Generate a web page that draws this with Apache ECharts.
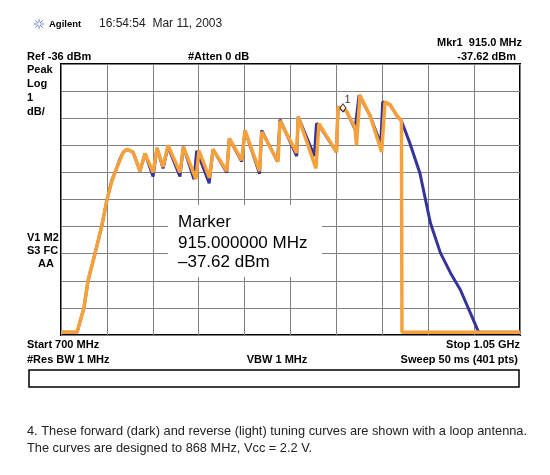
<!DOCTYPE html>
<html>
<head>
<meta charset="utf-8">
<script src="https://cdn.jsdelivr.net/npm/echarts@6/dist/echarts.min.js"></script>
<style>
  html, body { margin: 0; padding: 0; background: #fff; }
  #chart { width: 550px; height: 475px; }
</style>
</head>
<body>
<div id="chart"></div>
<script>
// axis: 700 MHz .. 1050 MHz, 35 MHz/div; Ref -36 dBm, 1 dB/div
var freqMin = 700, freqMax = 1050, freqStep = 35;
var levelMin = -46, levelMax = -36, levelStep = 1;

// forward (dark) curve
var forwardFreq = [700, 712.2, 717.5, 720.6, 725.9, 731, 735.1, 738.7, 741.2, 745, 747.5, 750.3, 754.9,
  760.2, 764.1, 770.2, 773.2, 777.8, 781.6, 790.7, 793.3, 801.4, 803.5, 813.0, 815.9, 826.4, 828.3,
  837.8, 840.3, 851.4, 853.0, 865.1, 867.0, 879.7, 880.9, 893.2, 894.8, 896.7, 910.1, 911.2, 917.8,
  924.2, 927.3, 935.6, 943.8, 945.3, 950.9, 956.0, 959.6, 966.1, 973.7, 981.7, 989.3, 997.0, 1004.6,
  1012.2, 1018.5, 1050];
var forwardLevel = [-45.9, -45.9, -45.0, -44.0, -43.0, -42.0, -41.0, -40.3, -40.0, -39.5, -39.25, -39.15, -39.25,
  -39.95, -39.3, -40.15, -39.1, -39.85, -39.05, -40.15, -39.05, -40.25, -39.2, -40.4, -39.15, -40.0, -38.75,
  -39.6, -38.45, -40.05, -38.45, -39.6, -38.05, -39.4, -37.95, -39.4, -38.2, -38.25, -39.25, -37.6, -37.75,
  -38.4, -37.15, -37.9, -38.95, -37.4, -37.5, -37.9, -38.1, -38.93, -40.03, -41.87, -42.97, -43.71, -44.34,
  -45.19, -45.9, -45.9];

// reverse (light) curve
var reverseFreq = [700, 712.2, 717.5, 720.6, 725.9, 731, 735.1, 738.7, 741.2, 745, 747.5, 750.3, 754.9,
  760.2, 764.1, 770.2, 773.2, 777.8, 781.6, 790.7, 793.3, 802.9, 805.2, 813.2, 815.9, 826.4, 828.5,
  837.8, 840.3, 851.4, 853.0, 865.5, 867.0, 879.7, 880.9, 894.4, 896.7, 910.1, 911.2, 915.0, 917.8,
  924.2, 925.3, 928.0, 935.6, 944.5, 947.1, 950.9, 956.0, 959.6, 960.0, 1050];
var reverseLevel = [-45.9, -45.9, -45.0, -44.0, -43.0, -42.0, -41.0, -40.35, -40.0, -39.55, -39.25, -39.15, -39.25,
  -39.95, -39.3, -40.0, -39.1, -39.8, -39.0, -40.0, -39.05, -40.25, -39.2, -40.2, -39.15, -39.95, -38.75,
  -39.55, -38.45, -39.95, -38.5, -39.6, -38.1, -39.28, -37.95, -39.85, -38.2, -39.25, -37.6, -37.62, -37.75,
  -38.35, -39.0, -37.15, -37.9, -39.25, -37.4, -37.5, -37.9, -38.1, -45.9, -45.9];

var markerFreq = [915.0];
var markerLevel = [-37.62];

function zip(a, b) {
  var out = [];
  for (var i = 0; i < a.length; i++) out.push([a[i], b[i]]);
  return out;
}

var bold = 'bold 11px "Liberation Sans", Arial, sans-serif';
var plain = '12.8px "Liberation Sans", Arial, sans-serif';
var big = '17px "Liberation Sans", Arial, sans-serif';
function label(text, x, y, align, font, color) {
  return {
    type: 'text', z: 50,
    style: {
      text: text, x: x, y: y, fill: color || '#000',
      font: font || bold,
      align: align || 'left', textAlign: align || 'left',
      verticalAlign: 'middle', textVerticalAlign: 'middle'
    }
  };
}

// little Agilent spark logo
var logo = [];
for (var k = 0; k < 8; k++) {
  var a = k * Math.PI / 4;
  logo.push({
    type: 'line', z: 50,
    shape: { x1: 39 + Math.cos(a) * 1.5, y1: 24 + Math.sin(a) * 1.5, x2: 39 + Math.cos(a) * 5, y2: 24 + Math.sin(a) * 5 },
    style: { stroke: '#5b80cc', lineWidth: 1 }
  });
}

var graphics = logo.concat([
  label('Agilent', 49, 24, 'left', 'bold 9.5px "Liberation Sans", Arial, sans-serif'),
  label('16:54:54  Mar 11, 2003', 99, 24, 'left', '12px "Liberation Sans", Arial, sans-serif', '#222'),
  label('Mkr1  915.0 MHz', 522, 43, 'right'),
  label('Ref -36 dBm', 27, 57),
  label('#Atten 0 dB', 188, 57),
  label('-37.62 dBm', 516, 57, 'right'),
  label('Peak', 27, 70),
  label('Log', 27, 84),
  label('1', 27, 97.5),
  label('dB/', 27, 111.5),
  label('V1 M2', 27, 238),
  label('S3 FC', 27, 251),
  label('AA', 38, 264),
  label('Start 700 MHz', 27, 345),
  label('Stop 1.05 GHz', 520, 345, 'right'),
  label('#Res BW 1 MHz', 27, 360),
  label('VBW 1 MHz', 277, 360, 'center'),
  label('Sweep 50 ms (401 pts)', 518, 360, 'right'),
  {
    type: 'rect', z: 50,
    shape: { x: 29, y: 370, width: 490, height: 17 },
    style: { fill: '#fff', stroke: '#000', lineWidth: 1.5 }
  },
  {
    type: 'rect', z: 40,
    shape: { x: 168, y: 205, width: 154, height: 72 },
    style: { fill: '#fff' }
  },
  label('Marker', 178, 222, 'left', big),
  label('915.000000 MHz', 178, 243, 'left', big),
  label('\u201337.62 dBm', 178, 262.5, 'left', big),
  label('4. These forward (dark) and reverse (light) tuning curves are shown with a loop antenna.', 27, 431, 'left', plain, '#222'),
  label('The curves are designed to 868 MHz, Vcc = 2.2 V.', 27, 448, 'left', plain, '#222')
]);

var myChart = echarts.init(document.getElementById('chart'));
var option = {
  backgroundColor: '#fff',
  animation: false,
  grid: {
    left: 61, top: 64, width: 459, height: 271,
    show: true, borderColor: '#000', borderWidth: 2, backgroundColor: '#fff'
  },
  xAxis: {
    type: 'value', min: freqMin, max: freqMax, interval: freqStep,
    axisLine: { show: false }, axisTick: { show: false }, axisLabel: { show: false },
    splitLine: { show: true, lineStyle: { color: '#7f7f7f', width: 1 } }
  },
  yAxis: {
    type: 'value', min: levelMin, max: levelMax, interval: levelStep,
    axisLine: { show: false }, axisTick: { show: false }, axisLabel: { show: false },
    splitLine: { show: true, lineStyle: { color: '#7f7f7f', width: 1 } }
  },
  series: [
    {
      name: 'forward', type: 'line', data: zip(forwardFreq, forwardLevel),
      showSymbol: false, symbol: 'none', z: 3,
      lineStyle: { color: '#34349a', width: 3 }
    },
    {
      name: 'reverse', type: 'line', data: zip(reverseFreq, reverseLevel),
      showSymbol: false, symbol: 'none', z: 4,
      lineStyle: { color: '#f7a13a', width: 3.5 }
    },
    {
      name: 'marker', type: 'scatter', data: zip(markerFreq, markerLevel), z: 6,
      symbol: 'diamond', symbolSize: [6, 8],
      itemStyle: { color: '#fff', borderColor: '#000', borderWidth: 1 },
      label: {
        show: true, formatter: '1', position: [5, -9],
        color: '#000', fontSize: 11, fontFamily: 'Liberation Sans'
      }
    }
  ],
  graphic: graphics
};

myChart.setOption(option);
window.onresize = () => myChart.resize();
</script>
</body>
</html>
